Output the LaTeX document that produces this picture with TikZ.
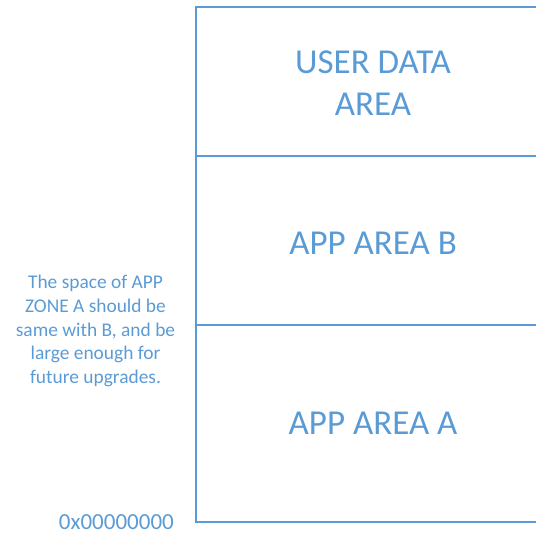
\documentclass[tikz,border=0pt]{standalone}
\usepackage{fontspec}
\setmainfont{Carlito}
\usetikzlibrary{positioning}
\definecolor{areablue}{HTML}{5B9BD5}

\begin{document}
\begin{tikzpicture}[x=1pt,y=-1pt,
    area/.style={text=areablue,font=\fontsize{35}{42}\selectfont,align=center},
    note/.style={text=areablue,font=\fontsize{19.4}{23.7}\selectfont,align=center}]
  \clip (0,0) rectangle (536,535);
  \draw[areablue,line width=1.6pt] (550,7) -- (196,7) -- (196,522) -- (550,522);
  \draw[areablue,line width=1.6pt] (196,156) -- (550,156);
  \draw[areablue,line width=1.6pt] (196,325) -- (550,325);
  \node[area] (user) at (373,83) {USER DATA\\AREA};
  \node[area] (appb) at (373,243) {APP AREA B};
  \node[area] (appa) at (373,423) {APP AREA A};
  \node[note] (zone) at (95.5,331) {The space of APP\\ZONE A should be\\same with B, and be\\large enough for\\future upgrades.};
  \node[note,font=\fontsize{23}{26}\selectfont,anchor=base east,inner sep=0pt] (base) at (174,529) {0x00000000};
\end{tikzpicture}
\end{document}
